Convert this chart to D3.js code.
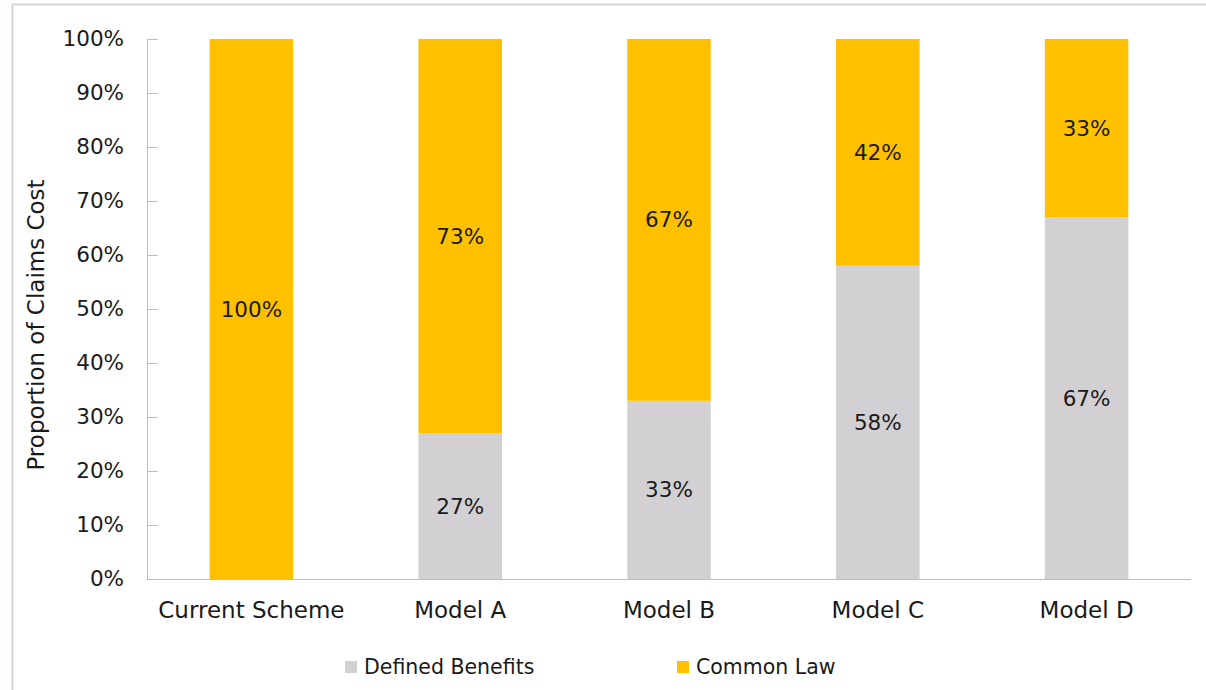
<!DOCTYPE html>
<html>
<head>
<meta charset="utf-8">
<script src="https://cdn.jsdelivr.net/npm/d3@7"></script>
<style>
  html, body { margin: 0; padding: 0; background: #fdfdfd; }
  svg { display: block; }
  text { font-family: "DejaVu Sans", sans-serif; fill: #1a1a1a; }
</style>
</head>
<body>
<svg id="chart" width="1206" height="690"></svg>
<script>
// Claims cost split by scheme option
const categories = ["Current Scheme", "Model A", "Model B", "Model C", "Model D"];
const definedBenefits = [0, 27, 33, 58, 67];
const commonLaw = [100, 73, 67, 42, 33];
const seriesNames = ["Defined Benefits", "Common Law"];
const yTicks = [0, 10, 20, 30, 40, 50, 60, 70, 80, 90, 100];

const colors = { "Defined Benefits": "#d2d0d2", "Common Law": "#ffc000" };

const svg = d3.select("#chart");
const W = 1206, H = 690;
const margin = { left: 147, right: 15, top: 39, bottom: 111 };

// outer frame
svg.append("rect")
  .attr("x", 12.5).attr("y", 4.5)
  .attr("width", W).attr("height", H)
  .attr("fill", "#ffffff")
  .attr("stroke", "#d4d4d4").attr("stroke-width", 2);

const x = d3.scaleBand()
  .domain(categories)
  .range([margin.left, W - margin.right])
  .paddingInner(0.6).paddingOuter(0.3);

const y = d3.scaleLinear()
  .domain([0, 100])
  .range([H - margin.bottom, margin.top]);

const rows = categories.map((c, i) => ({
  category: c,
  "Defined Benefits": definedBenefits[i],
  "Common Law": commonLaw[i]
}));

const stacked = d3.stack().keys(seriesNames)(rows);

const layers = svg.append("g").selectAll("g")
  .data(stacked)
  .join("g")
  .attr("fill", d => colors[d.key]);

layers.selectAll("rect")
  .data(d => d)
  .join("rect")
  .attr("x", d => x(d.data.category))
  .attr("width", x.bandwidth())
  .attr("y", d => y(d[1]))
  .attr("height", d => y(d[0]) - y(d[1]));

// value labels centred in each segment
layers.each(function(layer) {
  d3.select(this).selectAll("text")
    .data(layer.filter(d => d[1] - d[0] > 0))
    .join("text")
    .attr("x", d => x(d.data.category) + x.bandwidth() / 2)
    .attr("y", d => y((d[0] + d[1]) / 2))
    .attr("dy", "0.35em")
    .attr("text-anchor", "middle")
    .attr("font-size", 21.5)
    .text(d => (d[1] - d[0]) + "%");
});

// y axis
const yAxis = svg.append("g")
  .attr("transform", `translate(${margin.left},0)`)
  .call(d3.axisRight(y).tickValues(yTicks).tickSize(11).tickFormat(d => d + "%"));
yAxis.select(".domain").attr("stroke", "#bdbdbd").attr("d", `M0.5,${y(100)}V${y(0)}`);
yAxis.selectAll(".tick line").attr("stroke", "#bdbdbd");
yAxis.selectAll(".tick text")
  .attr("x", -23).attr("text-anchor", "end")
  .attr("font-size", 21.5).attr("fill", "#1a1a1a");

// x axis
const xAxis = svg.append("g")
  .attr("transform", `translate(0,${y(0)})`)
  .call(d3.axisBottom(x).tickSize(0).tickPadding(23));
xAxis.select(".domain").attr("stroke", "#bdbdbd").attr("d", `M${margin.left},0.5H${W - margin.right}`);
xAxis.selectAll(".tick text").attr("font-size", 23).attr("fill", "#1a1a1a");

// y axis title
svg.append("text")
  .attr("transform", `translate(44,${(y(0) + y(100)) / 2 + 16}) rotate(-90)`)
  .attr("text-anchor", "middle")
  .attr("font-size", 23)
  .text("Proportion of Claims Cost");

// legend
const legendPos = [345, 677];
const legend = svg.append("g").selectAll("g")
  .data(seriesNames)
  .join("g")
  .attr("transform", (d, i) => `translate(${legendPos[i]},667)`);
legend.append("rect")
  .attr("x", 0).attr("y", -6).attr("width", 12).attr("height", 12)
  .attr("fill", d => colors[d]);
legend.append("text")
  .attr("x", 19).attr("dy", "0.35em")
  .attr("font-size", 20.5)
  .text(d => d);
</script>
</body>
</html>
